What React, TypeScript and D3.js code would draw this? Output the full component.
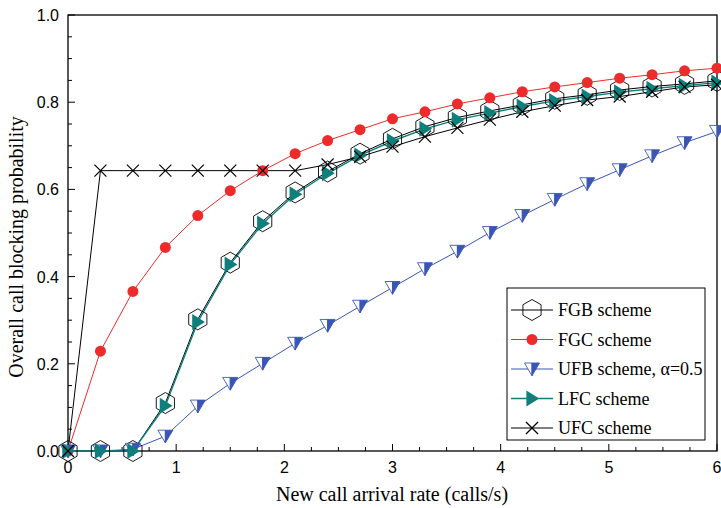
import React from 'react';
import * as d3 from 'd3';

const rates = [0, 0.3, 0.6, 0.9, 1.2, 1.5, 1.8, 2.1, 2.4, 2.7, 3.0, 3.3, 3.6, 3.9, 4.2, 4.5, 4.8, 5.1, 5.4, 5.7, 6.0];

const fgb = [0, 0, 0, 0.110, 0.302, 0.432, 0.527, 0.593, 0.641, 0.682, 0.716, 0.744, 0.765, 0.780, 0.794, 0.808, 0.817, 0.828, 0.836, 0.842, 0.849];
const fgc = [0, 0.229, 0.366, 0.467, 0.540, 0.597, 0.643, 0.682, 0.712, 0.737, 0.762, 0.778, 0.796, 0.810, 0.824, 0.835, 0.845, 0.855, 0.863, 0.872, 0.878];
const ufb = [0, 0, 0.004, 0.034, 0.103, 0.155, 0.201, 0.247, 0.288, 0.332, 0.375, 0.418, 0.458, 0.501, 0.540, 0.577, 0.613, 0.645, 0.677, 0.707, 0.733];
const lfc = [0, 0, 0, 0.104, 0.296, 0.428, 0.522, 0.589, 0.637, 0.678, 0.711, 0.739, 0.760, 0.775, 0.790, 0.803, 0.813, 0.823, 0.831, 0.838, 0.845];
const ufc = [0, 0.643, 0.643, 0.643, 0.643, 0.643, 0.643, 0.643, 0.657, 0.675, 0.698, 0.721, 0.741, 0.760, 0.778, 0.792, 0.805, 0.813, 0.824, 0.835, 0.840];

const xTicks = [0, 1, 2, 3, 4, 5, 6];
const yTicks = [0, 0.2, 0.4, 0.6, 0.8, 1.0];
const legendLabels = ['FGB scheme', 'FGC scheme', 'UFB scheme, \u03b1=0.5', 'LFC scheme', 'UFC scheme'];

const W = 721, H = 508;
const m = { left: 68, right: 4, top: 15, bottom: 57 };

const RED = '#ee2b2b';
const BLUE = '#3a56b4';
const TEAL = '#0e7f7b';
const SERIF = 'Liberation Serif, Times New Roman, serif';
const SANS = 'Liberation Sans, Arial, sans-serif';

const Marker = ({ kind, x, y }: { kind: string; x: number; y: number }) => {
  if (kind === 'hex') {
    const r = 10.5;
    const pts = d3.range(6).map(i => {
      const a = Math.PI / 2 + (i * Math.PI) / 3;
      return [x + r * Math.cos(a), y + r * Math.sin(a)].join(',');
    }).join(' ');
    return <polygon points={pts} fill="none" stroke="#000" strokeWidth={0.9} />;
  }
  if (kind === 'circle') return <circle cx={x} cy={y} r={5.5} fill={RED} />;
  if (kind === 'down') {
    const s = 7.5;
    return (
      <g>
        <polygon points={`${x - s},${y - s * 0.8} ${x},${y - s * 0.8} ${x},${y + s * 0.9}`} fill="#fff" stroke={BLUE} strokeWidth={0.9} />
        <polygon points={`${x},${y - s * 0.8} ${x + s},${y - s * 0.8} ${x},${y + s * 0.9}`} fill={BLUE} stroke={BLUE} strokeWidth={0.9} />
      </g>
    );
  }
  if (kind === 'right') {
    const s = 8;
    return <polygon points={`${x - s * 0.7},${y - s} ${x + s * 0.9},${y} ${x - s * 0.7},${y + s}`} fill={TEAL} />;
  }
  const s = 6;
  return (
    <g stroke="#000" strokeWidth={1.2}>
      <line x1={x - s} y1={y - s} x2={x + s} y2={y + s} />
      <line x1={x - s} y1={y + s} x2={x + s} y2={y - s} />
    </g>
  );
};

const App = () => {
  const x = d3.scaleLinear().domain([0, 6]).range([m.left, W - m.right]);
  const y = d3.scaleLinear().domain([0, 1]).range([H - m.bottom, m.top]);

  const series = [
    { vals: fgb, color: '#000', kind: 'hex', width: 1 },
    { vals: fgc, color: RED, kind: 'circle', width: 1 },
    { vals: ufb, color: BLUE, kind: 'down', width: 1 },
    { vals: lfc, color: TEAL, kind: 'right', width: 1.4 },
    { vals: ufc, color: '#000', kind: 'x', width: 1 },
  ];

  const line = d3.line<number>().x((_, i) => x(rates[i])).y(d => y(d));

  const xMinor = d3.range(0, 6.001, 0.25);
  const yMinor = d3.range(0, 1.001, 0.05);
  const x0 = x(0), x1 = x(6), y0 = y(0), y1 = y(1);

  const lx = 507, ly = 288, lw = 198, lh = 152;

  return (
    <svg width={W} height={H} style={{ position: 'absolute', left: 0, top: 0, background: '#fff' }}>
      <rect width={W} height={H} fill="#fff" />
      {/* frame */}
      <rect x={x0} y={y1} width={x1 - x0} height={y0 - y1} fill="none" stroke="#000" strokeWidth={1.3} />
      {/* minor/major ticks */}
      {xMinor.map(v => {
        const major = Math.abs(v - Math.round(v)) < 1e-6;
        return <line key={'xt' + v} x1={x(v)} x2={x(v)} y1={y0} y2={y0 - (major ? 7 : 4)} stroke="#000" strokeWidth={1} />;
      })}
      {yMinor.map(v => {
        const major = Math.abs(v * 5 - Math.round(v * 5)) < 1e-6;
        return <line key={'yt' + v} x1={x0} x2={x0 + (major ? 7 : 4)} y1={y(v)} y2={y(v)} stroke="#000" strokeWidth={1} />;
      })}
      {xTicks.map(v => (
        <text key={'xl' + v} x={x(v)} y={y0 + 22} textAnchor="middle" fontFamily={SANS} fontSize={16}>{v}</text>
      ))}
      {yTicks.map(v => (
        <text key={'yl' + v} x={x0 - 9} y={y(v) + 6} textAnchor="end" fontFamily={SANS} fontSize={16}>{v.toFixed(1)}</text>
      ))}
      <text x={392} y={H - 7} textAnchor="middle" fontFamily={SERIF} fontSize={20}>New call arrival rate (calls/s)</text>
      <text transform={`translate(23,${(y0 + y1) / 2 + 14}) rotate(-90)`} textAnchor="middle" fontFamily={SERIF} fontSize={20}>Overall call blocking probability</text>

      {/* lines */}
      {series.map((s, i) => (
        <path key={'l' + i} d={line(s.vals) || ''} fill="none" stroke={s.color} strokeWidth={s.width} />
      ))}
      {/* markers */}
      {series.map((s, i) => (
        <g key={'m' + i}>
          {s.vals.map((v, j) => <Marker key={j} kind={s.kind} x={x(rates[j])} y={y(v)} />)}
        </g>
      ))}

      {/* legend */}
      <rect x={lx} y={ly} width={lw} height={lh} fill="#fff" stroke="#000" strokeWidth={1} />
      {series.map((s, i) => {
        const cy = ly + 22 + i * 29.5;
        return (
          <g key={'lg' + i}>
            <line x1={lx + 4} x2={lx + 46} y1={cy} y2={cy} stroke={s.color} strokeWidth={s.width} />
            <Marker kind={s.kind} x={lx + 25} y={cy} />
            <text x={lx + 51} y={cy + 6} fontFamily={SERIF} fontSize={18}>{legendLabels[i]}</text>
          </g>
        );
      })}
    </svg>
  );
};

export default App;
